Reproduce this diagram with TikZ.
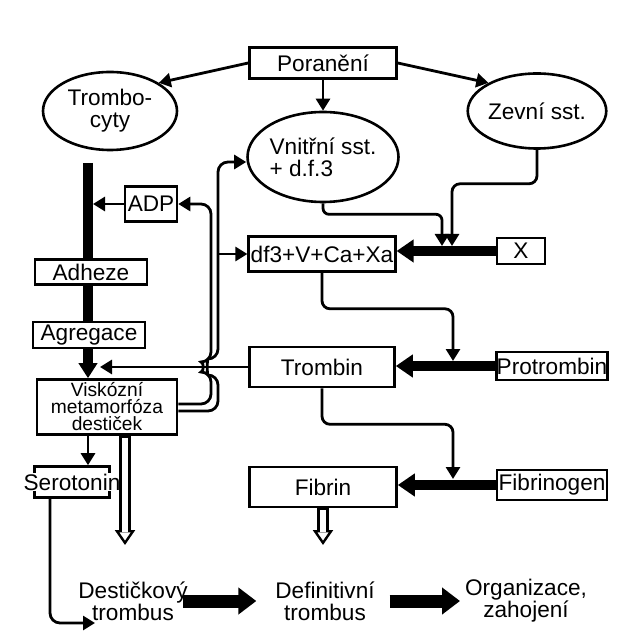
\documentclass[tikz,border=0pt]{standalone}
\usepackage{fontspec}
\setmainfont{Liberation Sans}
\usetikzlibrary{arrows.meta,shapes.geometric,calc}

\begin{document}
\begin{tikzpicture}[x=0.5pt,y=-0.5pt,font=\fontsize{11.3}{11}\selectfont,
    box/.style={draw,fill=white,line width=1.3pt,inner sep=1pt},
    oval/.style={draw,ellipse,line width=1.3pt,inner sep=0pt},
    link/.style={line width=1.4pt,-{Triangle[length=6pt,width=7pt]}},
    feed/.style={line width=5pt,-{Triangle[length=8.5pt,width=11pt]}},
    trunk/.style={line width=5pt,-{Triangle[length=7.5pt,width=9pt]}},
    bigarr/.style={line width=6.5pt,-{Triangle[length=9pt,width=13pt]}},
    hollow/.style={line width=6pt,-{Triangle[length=7.5pt,width=10pt,fill=white,line width=1.2pt]},
      postaction={draw,-,white,line width=3pt,shorten <=1pt,shorten >=6.3pt}}]
  \useasboundingbox (0,0) rectangle (631,635);
  \node[box,minimum width=73.5pt,minimum height=15.5pt] (por) at (323,63) {Poranění};
  \node[oval,minimum width=67pt,minimum height=39pt,align=center] (tromb) at (110,111) {Trombo-\\cyty};
  \node[oval,minimum width=75pt,minimum height=45pt,align=left] (vnitr) at (323,157) {Vnitřní sst.\\+ d.f.3};
  \node[oval,minimum width=67.5pt,minimum height=37.5pt] (zevni) at (537,111) {Zevní sst.};
  \node[box,minimum width=26pt,minimum height=17.5pt] (adp) at (151,204) {ADP};
  \node[box,minimum width=72.5pt,minimum height=17.5pt] (df3) at (322,254) {df3+V+Ca+Xa};
  \node[box,minimum width=24pt,minimum height=13pt] (xf) at (521,251) {X};
  \node[box,minimum width=72.5pt,minimum height=20pt] (trombin) at (322,367) {Trombin};
  \node[box,minimum width=55pt,minimum height=14pt,inner xsep=0pt] (protr) at (552,366) {Protrombin};
  \node[box,minimum width=70pt,minimum height=27.5pt,inner sep=0pt,align=center,
    font=\fontsize{9.6}{8.5}\selectfont] (visk) at (107,407) {Viskózní\\metamorfóza\\destiček};
  \node[box,minimum width=73.5pt,minimum height=20pt] (fibrin) at (323,487) {Fibrin};
  \node[box,minimum width=55pt,minimum height=15pt,inner xsep=0pt] (fibrinog) at (552,485) {Fibrinogen};
  \node[box,minimum width=37.5pt,minimum height=15.5pt] (sero) at (72,482) {};
  \node[fill=white,inner sep=0.3pt] (serot) at (sero) {Serotonin};
  \node[align=center] (dest) at (133,601) {Destičkový\\trombus};
  \node[align=center] (defin) at (325,601) {Definitivní\\trombus};
  \node[align=center] (organ) at (526,601) {Organizace,\\zahojení};

  \coordinate (bartop) at (88,163);
  \coordinate (xin1) at (442,246);
  \coordinate (xin2) at (452,246);
  \coordinate (pin) at (453,361);
  \coordinate (fin) at (453,479);
  \coordinate (vbr) at (218,254);
  \coordinate (destin) at (95,623);
  \coordinate (vdown) at (125,545);
  \coordinate (fdown) at (323,545);

  \draw[trunk] (bartop) -- (bartop |- visk.north);
  \node[box,minimum width=56pt,minimum height=12.5pt] (adh) at (91,272) {Adheze};
  \node[box,minimum width=56pt,minimum height=13pt] (agr) at (89,335) {Agregace};

  \draw[link] (por.west) -- (tromb.30);
  \draw[link] (por.south) -- (vnitr.north);
  \draw[link] (por.east) -- (zevni.150);
  \draw[link,rounded corners=3pt] (vnitr.south) -- ++(0,11) -| (xin1);
  \draw[link,rounded corners=4pt] (zevni.south) -- ++(0,34) -| (xin2);
  \draw[feed] (xf.west) -- (xf.west -| df3.east);
  \draw[link,rounded corners=4pt] (df3.south) -- ++(0,36) -| (pin);
  \draw[feed] (protr.west) -- (protr.west -| trombin.east);
  \draw[link,rounded corners=4pt] (trombin.south) -- ++(0,36) -| (fin);
  \draw[feed] (fibrinog.west) -- (fibrinog.west -| fibrin.east);
  \draw[hollow] (fibrin.south) -- (fdown);
  \draw[hollow] ([xshift=9pt]visk.south) -- (vdown);

  \draw[link,shorten >=2.5pt] (adp.west) -- (adp.west -| bartop);
  \draw[link,shorten >=6pt] (trombin.west) -- (trombin.west -| bartop);
  \draw[link,rounded corners=5pt] ([yshift=1.5pt]visk.east) -| (211,372)
    .. controls (204,372) and (204,362) .. (211,362) |- (adp.east);
  \draw[link,rounded corners=5pt] ([yshift=-2pt]visk.east) -| (218,375)
    .. controls (207,375) and (207,359) .. (218,359) |- ($(vnitr.west)+(0,5)$);
  \draw[link] (vbr) -- (df3.west);
  \draw[link] (visk.south -| bartop) -- (sero.north -| bartop);
  \draw[link,rounded corners=5pt] ([xshift=-11pt]sero.south) |- (destin);

  \draw[bigarr] ([xshift=-6pt]dest.east) -- ([xshift=-6pt]defin.west);
  \draw[bigarr] ([xshift=4pt]defin.east) -- ([xshift=1pt]organ.west);
\end{tikzpicture}
\end{document}
